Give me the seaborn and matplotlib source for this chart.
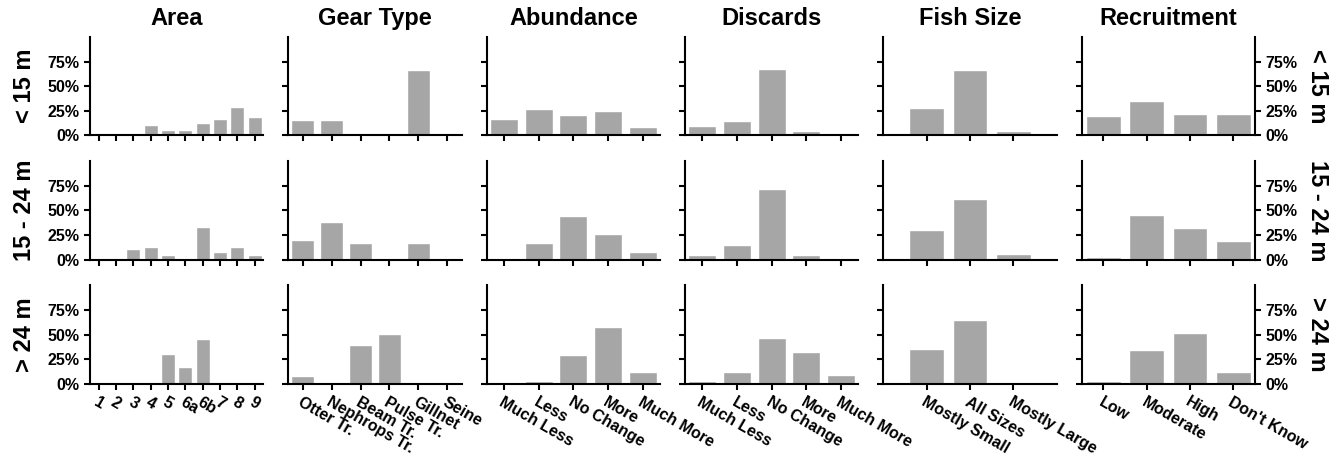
import matplotlib
matplotlib.use("Agg")
import matplotlib.pyplot as plt
import seaborn as sns
from matplotlib.ticker import PercentFormatter

# categories
area_cats = ["1", "2", "3", "4", "5", "6a", "6b", "7", "8", "9"]
gear_cats = ["Otter Tr.", "Nephrops Tr.", "Beam Tr.", "Pulse Tr.", "Gillnet", "Seine"]
change_cats = ["Much Less", "Less", "No Change", "More", "Much More"]
size_cats = ["Mostly Small", "All Sizes", "Mostly Large"]
recruit_cats = ["Low", "Moderate", "High", "Don't Know"]

col_titles = ["Area", "Gear Type", "Abundance", "Discards", "Fish Size", "Recruitment"]
row_labels = ["< 15 m", "15 - 24 m", "> 24 m"]

# percentages per vessel length group
area_lt15 = [0, 0, 0, 11, 5, 5, 13, 17, 29, 19]
area_15_24 = [2, 2, 11, 13, 5, 2, 33, 8, 13, 5]
area_gt24 = [1.5, 1.5, 0, 0, 30, 17, 45, 1.5, 1.5, 0]

gear_lt15 = [16, 16, 0, 0, 66, 0]
gear_15_24 = [20, 38, 17, 2, 17, 2]
gear_gt24 = [8, 0, 39, 51, 0, 0]

abund_lt15 = [17, 27, 21, 25, 8]
abund_15_24 = [2, 17, 44, 26, 8]
abund_gt24 = [0, 2.5, 29, 58, 11.5]

disc_lt15 = [10, 15, 67, 4, 2]
disc_15_24 = [5, 15, 72, 5, 0]
disc_gt24 = [2.5, 11.5, 46, 32, 8.5]

size_lt15 = [28, 66, 4]
size_15_24 = [30, 62, 6]
size_gt24 = [35.5, 64.5, 0]

rec_lt15 = [20, 35, 22, 22]
rec_15_24 = [3, 45, 32, 19]
rec_gt24 = [2.5, 34.5, 51.5, 11.5]

columns = [
    (area_cats, [area_lt15, area_15_24, area_gt24]),
    (gear_cats, [gear_lt15, gear_15_24, gear_gt24]),
    (change_cats, [abund_lt15, abund_15_24, abund_gt24]),
    (change_cats, [disc_lt15, disc_15_24, disc_gt24]),
    (size_cats, [size_lt15, size_15_24, size_gt24]),
    (recruit_cats, [rec_lt15, rec_15_24, rec_gt24]),
]

sns.set_style("ticks")
plt.rcParams["font.family"] = ["Liberation Sans", "DejaVu Sans"]
plt.rcParams["font.weight"] = "bold"
plt.rcParams["axes.linewidth"] = 1.5
plt.rcParams["text.color"] = "black"
plt.rcParams["axes.labelcolor"] = "black"
plt.rcParams["axes.titlecolor"] = "black"

bar_color = "#a6a6a6"

fig, axes = plt.subplots(3, 6, figsize=(13.43, 4.54), dpi=100)
fig.subplots_adjust(left=0.067, right=0.9345, top=0.9185, bottom=0.1548,
                    wspace=0.1445, hspace=0.263)

for c, (cats, rows) in enumerate(columns):
    for r, vals in enumerate(rows):
        ax = axes[r, c]
        sns.barplot(x=cats, y=vals, order=cats, color=bar_color,
                    saturation=1, width=0.8, ax=ax)
        ax.set_ylim(0, 100)
        ax.set_yticks([0, 25, 50, 75])
        ax.yaxis.set_major_formatter(PercentFormatter(xmax=100, decimals=0))
        if len(cats) == 3:
            ax.set_xlim(-1, 3)
        else:
            ax.set_xlim(-0.5, len(cats) - 0.5)
        ax.set_xlabel("")
        ax.set_ylabel("")
        ax.tick_params(axis="both", length=4, width=1.5, labelsize=11.5, colors="black")
        for sp in ax.spines.values():
            sp.set_color("black")
        ax.spines["top"].set_visible(False)
        if c == 5:
            ax.spines["right"].set_visible(True)
            ax.tick_params(axis="y", left=True, right=True,
                           labelleft=False, labelright=True)
        else:
            ax.spines["right"].set_visible(False)
            if c > 0:
                ax.tick_params(axis="y", labelleft=False)
        if r < 2:
            ax.tick_params(axis="x", labelbottom=False)
        else:
            plt.setp(ax.get_xticklabels(), rotation=-30, ha="left",
                     rotation_mode="anchor", fontweight="bold")
        for lab in ax.get_yticklabels():
            lab.set_fontweight("bold")
        if r == 0:
            ax.set_title(col_titles[c], fontsize=17, fontweight="bold",
                         color="black", pad=9)

# row labels on both sides
for r, lab in enumerate(row_labels):
    pos = axes[r, 0].get_position()
    yc = (pos.y0 + pos.y1) / 2
    fig.text(0.018, yc, lab, rotation=90, ha="center", va="center",
             fontsize=17, fontweight="bold", color="black")
    fig.text(0.981, yc, lab, rotation=270, ha="center", va="center",
             fontsize=17, fontweight="bold", color="black")

fig.savefig("out.png", dpi=100)
